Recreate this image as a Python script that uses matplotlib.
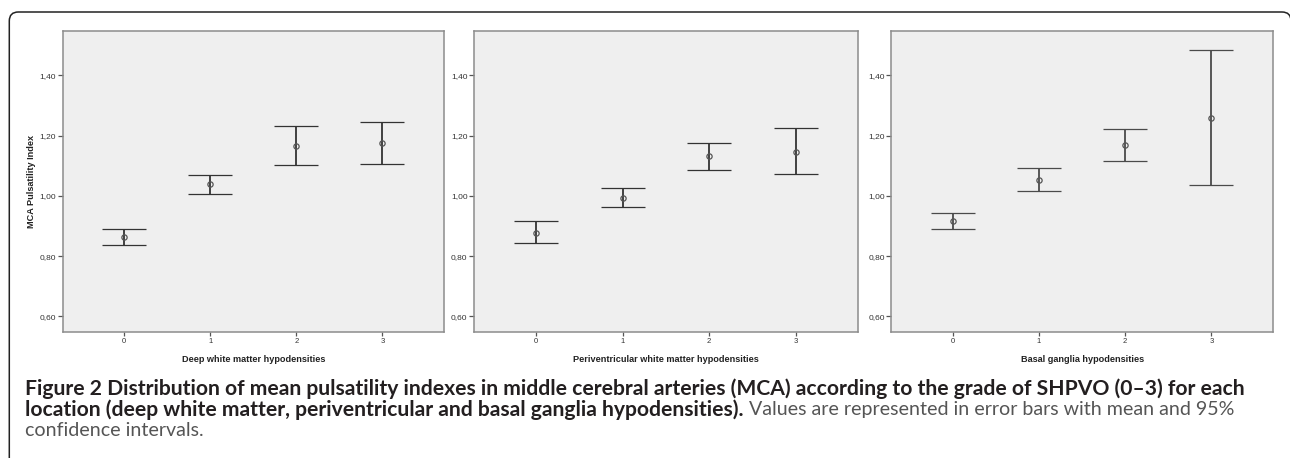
import matplotlib
matplotlib.use("Agg")
import matplotlib.pyplot as plt
from matplotlib.patches import FancyBboxPatch

# ---------------- data ----------------
groups = [0, 1, 2, 3]
group_labels = ["0", "1", "2", "3"]
ytick_vals = [0.60, 0.80, 1.00, 1.20, 1.40]
ytick_labels = ["0,60", "0,80", "1,00", "1,20", "1,40"]

deep_mean = [0.865, 1.038, 1.167, 1.176]
deep_lo = [0.837, 1.007, 1.103, 1.107]
deep_hi = [0.891, 1.070, 1.232, 1.246]

peri_mean = [0.878, 0.994, 1.131, 1.147]
peri_lo = [0.842, 0.962, 1.086, 1.071]
peri_hi = [0.916, 1.026, 1.176, 1.226]

basal_mean = [0.917, 1.054, 1.168, 1.260]
basal_lo = [0.890, 1.016, 1.115, 1.035]
basal_hi = [0.944, 1.091, 1.221, 1.485]

xlabels = ["Deep white matter hypodensities",
           "Periventricular white matter hypodensities",
           "Basal ganglia hypodensities"]
ylabel = "MCA Pulsatility Index"

caption_bold_1 = ("Figure 2 Distribution of mean pulsatility indexes in middle cerebral arteries "
                  "(MCA) according to the grade of SHPVO (0\u20133) for each")
caption_bold_2 = "location (deep white matter, periventricular and basal ganglia hypodensities)."
caption_norm_2 = " Values are represented in error bars with mean and 95%"
caption_norm_3 = "confidence intervals."

series = [(deep_mean, deep_lo, deep_hi),
          (peri_mean, peri_lo, peri_hi),
          (basal_mean, basal_lo, basal_hi)]

# ---------------- figure ----------------
W, H = 1290, 458
fig = plt.figure(figsize=(W / 100, H / 100), dpi=100)
fig.patch.set_facecolor("white")

chart_font = "Liberation Sans"

# outer rounded frame (in inches)
frame = FancyBboxPatch((9.3 / 100, -0.3), (1291 - 9.3) / 100, (458 - 12) / 100 + 0.3,
                       boxstyle="round,pad=0,rounding_size=0.09",
                       transform=fig.dpi_scale_trans, facecolor="none",
                       edgecolor="#222222", linewidth=1.1, clip_on=False)
fig.patches.append(frame)

panel_px = [(62.7, 444.3), (474.0, 858.0), (891.3, 1273.3)]
top_px, bot_px = 30.7, 331.5
bar_colors = ["#333333", "#333333", "#4a4a4a"]

for i, ((l, r), (m, lo, hi)) in enumerate(zip(panel_px, series)):
    ax = fig.add_axes([l / W, 1 - bot_px / H, (r - l) / W, (bot_px - top_px) / H])
    ax.set_facecolor("#efefef")
    for s in ax.spines.values():
        s.set_color("#8c8c8c")
        s.set_linewidth(1.1)
    yerr = [[mm - a for mm, a in zip(m, lo)], [b - mm for mm, b in zip(m, hi)]]
    ax.errorbar(groups, m, yerr=yerr, fmt="o", color=bar_colors[i], ecolor=bar_colors[i],
                elinewidth=1.3, capsize=15.5, capthick=1.3,
                markersize=3.8, markerfacecolor="none", markeredgecolor="#555555",
                markeredgewidth=0.9)
    ax.set_xlim(-0.716, 3.72)
    ax.set_ylim(0.55, 1.548)
    ax.set_xticks(groups)
    ax.set_xticklabels(group_labels, fontsize=5.5, fontfamily=chart_font, color="#333333")
    ax.set_yticks(ytick_vals)
    ax.set_yticklabels(ytick_labels, fontsize=6, fontfamily=chart_font, color="#333333")
    ax.tick_params(axis="y", length=3.6, width=0.9, color="#555555", pad=1)
    ax.tick_params(axis="x", length=3.0, width=0.9, color="#555555", pad=2)
    ax.set_xlabel(xlabels[i], fontsize=6.6, fontweight="bold", fontfamily=chart_font,
                  color="#222222", labelpad=7)
    if i == 0:
        ax.set_ylabel(ylabel, fontsize=6.6, fontweight="bold", fontfamily=chart_font,
                      color="#222222", labelpad=3)

# ---------------- caption ----------------
renderer = fig.canvas.get_renderer()
cap_font = "Lato"
x0 = 25 / W
target_w = 1238 - 25
fs = 12.0
t1 = fig.text(x0, 1 - 395 / H, caption_bold_1, fontsize=fs, fontweight="bold",
              fontfamily=cap_font, color="#231f20", va="baseline", ha="left")
w = t1.get_window_extent(renderer).width
fs = fs * target_w / w
t1.set_fontsize(fs)

t2 = fig.text(x0, 1 - 415.5 / H, caption_bold_2, fontsize=fs, fontweight="bold",
              fontfamily=cap_font, color="#231f20", va="baseline", ha="left")
bb = t2.get_window_extent(renderer)
t2n = fig.text(bb.x1 / W, 1 - 415.5 / H, caption_norm_2, fontsize=fs, fontweight="normal",
               fontfamily=cap_font, color="#555555", va="baseline", ha="left")
wn = t2n.get_window_extent(renderer).width
fsn = fs * (1236 - bb.x1) / wn
t2n.set_fontsize(fsn)
t3 = fig.text(x0, 1 - 435.5 / H, caption_norm_3, fontsize=fsn, fontweight="normal",
              fontfamily=cap_font, color="#555555", va="baseline", ha="left")

fig.savefig("out.png", dpi=100)
